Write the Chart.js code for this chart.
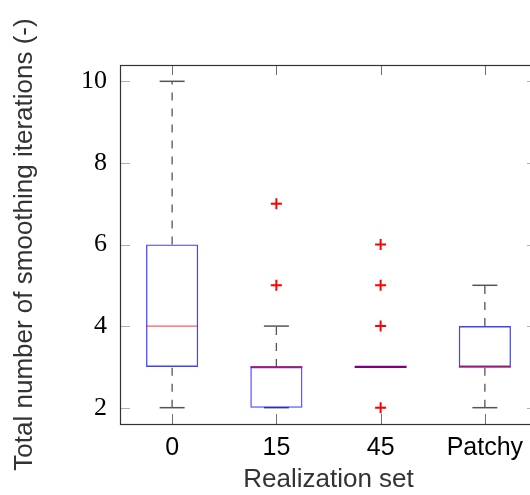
<!DOCTYPE html>
<html>
<head>
<meta charset="utf-8">
<script src="https://cdn.jsdelivr.net/npm/chart.js@4"></script>
<style>
    html, body { margin: 0; padding: 0; background: #fff; overflow: hidden; }
    #wrap { width: 545px; height: 495px; }
</style>
</head>
<body>
<div id="wrap"><canvas id="boxChart" width="545" height="495"></canvas></div>
<script>
    // realization sets and box statistics
    const categories = ["0", "15", "45", "Patchy"];
    const lowWhisker = [2, 2, 3, 2];
    const q1 = [3, 2, 3, 3];
    const median = [4, 3, 3, 3];
    const q3 = [6, 3, 3, 4];
    const highWhisker = [10, 4, 3, 5];
    const outliers = [[], [5, 7], [2, 4, 5, 6], []];
    const yTicks = [2, 4, 6, 8, 10];

    const boxData = categories.map((c, i) => ({x: i, y: [q1[i], q3[i]]}));

    // dashed whiskers, null breaks the line between lower and upper part
    const whiskerData = [];
    categories.forEach((c, i) => {
        whiskerData.push({x: i, y: lowWhisker[i]}, {x: i, y: q1[i]}, {x: i, y: null});
        whiskerData.push({x: i, y: q3[i]}, {x: i, y: highWhisker[i]}, {x: i, y: null});
    });

    const capData = [];
    categories.forEach((c, i) => {
        capData.push({x: i, y: lowWhisker[i]}, {x: i, y: highWhisker[i]});
    });

    const medianData = categories.map((c, i) => ({x: i, y: median[i]}));

    const outlierData = [];
    outliers.forEach((list, i) => {
        list.forEach(v => outlierData.push({x: i, y: v}));
    });

    // frame with inward tick marks on all four sides
    const framePlugin = {
        id: "frame",
        beforeDatasetsDraw(chart) {
            const {ctx, chartArea: a, scales} = chart;
            ctx.save();
            ctx.lineWidth = 1;
            ctx.strokeStyle = "#b0b0b0";
            scales.y.ticks.forEach((t, i) => {
                const py = Math.round(scales.y.getPixelForTick(i)) + 0.5;
                ctx.beginPath();
                ctx.moveTo(a.left, py); ctx.lineTo(a.left + 10, py);
                ctx.moveTo(a.right - 10, py); ctx.lineTo(a.right, py);
                ctx.stroke();
            });
            ctx.strokeStyle = "#707070";
            scales.x.ticks.forEach((t, i) => {
                const px = Math.round(scales.x.getPixelForTick(i)) + 0.5;
                ctx.beginPath();
                ctx.moveTo(px, a.top); ctx.lineTo(px, a.top + 10);
                ctx.moveTo(px, a.bottom - 10); ctx.lineTo(px, a.bottom);
                ctx.stroke();
            });
            ctx.restore();
        },
        afterDraw(chart) {
            const {ctx, chartArea: a} = chart;
            ctx.save();
            ctx.strokeStyle = "#333";
            ctx.lineWidth = 1.2;
            ctx.strokeRect(Math.round(a.left) + 0.5, Math.round(a.top) + 0.5,
                Math.round(a.right - a.left), Math.round(a.bottom - a.top));
            ctx.restore();
        }
    };

    const ctx = document.getElementById("boxChart").getContext("2d");

    const chart = new Chart(ctx, {
        data: {
            datasets: [
                {
                    type: "line",
                    data: whiskerData,
                    borderColor: "#555",
                    borderWidth: 1.3,
                    borderDash: [8, 8],
                    pointRadius: 0,
                    spanGaps: false,
                    order: 5,
                },
                {
                    type: "scatter",
                    data: capData,
                    pointStyle: "line",
                    pointRadius: 12.5,
                    borderColor: "#555",
                    borderWidth: 1.5,
                    order: 4,
                },
                {
                    type: "bar",
                    data: boxData,
                    backgroundColor: "rgba(0,0,0,0)",
                    borderColor: "rgba(0,0,255,0.75)",
                    borderWidth: 1.3,
                    borderSkipped: false,
                    categoryPercentage: 1,
                    barPercentage: 0.5,
                    order: 3,
                },
                {
                    type: "scatter",
                    data: medianData,
                    pointStyle: "line",
                    pointRadius: 26,
                    borderColor: ["rgba(255,0,0,0.65)", "rgba(170,20,100,0.9)", "#800080", "rgba(170,20,100,0.9)"],
                    borderWidth: [1.3, 1.6, 2.2, 1.6],
                    order: 2,
                },
                {
                    type: "scatter",
                    data: outlierData,
                    pointStyle: "cross",
                    pointRadius: 5.5,
                    borderColor: "#ff0000",
                    borderWidth: 2,
                    order: 1,
                },
            ],
        },
        options: {
            responsive: false,
            animation: false,
            events: [],
            layout: {autoPadding: false, padding: {left: 0, right: 8, top: 65, bottom: 0}},
            plugins: {
                legend: {display: false},
                tooltip: {enabled: false},
            },
            scales: {
                x: {
                    type: "linear",
                    offset: false,
                    min: -0.5,
                    max: 3.5,
                    afterBuildTicks: (axis) => {
                        axis.ticks = categories.map((c, i) => ({value: i}));
                    },
                    afterFit: (axis) => {
                        axis.height = 71;
                        axis.paddingLeft = 0;
                        axis.paddingRight = 0;
                    },
                    grid: {display: false, drawTicks: false},
                    border: {display: false},
                    ticks: {
                        color: "#000",
                        padding: 9,
                        maxRotation: 0,
                        autoSkip: false,
                        font: {family: "'Liberation Sans', Arial, sans-serif", size: 25},
                        callback: (v) => categories[v],
                    },
                    title: {
                        display: true,
                        text: "Realization set",
                        color: "#333",
                        padding: {top: 0, bottom: 0},
                        font: {family: "'Liberation Sans', Arial, sans-serif", size: 26},
                    },
                },
                y: {
                    type: "linear",
                    min: 1.6,
                    max: 10.4,
                    afterBuildTicks: (axis) => {
                        axis.ticks = yTicks.map(v => ({value: v}));
                    },
                    afterFit: (axis) => {
                        axis.width = 120;
                        axis.paddingTop = 0;
                        axis.paddingBottom = 0;
                    },
                    grid: {display: false, drawTicks: false},
                    border: {display: false},
                    ticks: {
                        color: "#000",
                        padding: 13,
                        font: {family: "'Liberation Serif', serif", size: 26},
                    },
                    title: {
                        display: true,
                        text: "Total number of smoothing iterations (-)",
                        color: "#333",
                        padding: {top: 9, bottom: 0},
                        font: {family: "'Liberation Sans', Arial, sans-serif", size: 26},
                    },
                },
            },
        },
        plugins: [framePlugin],
    });
</script>
</body>
</html>
